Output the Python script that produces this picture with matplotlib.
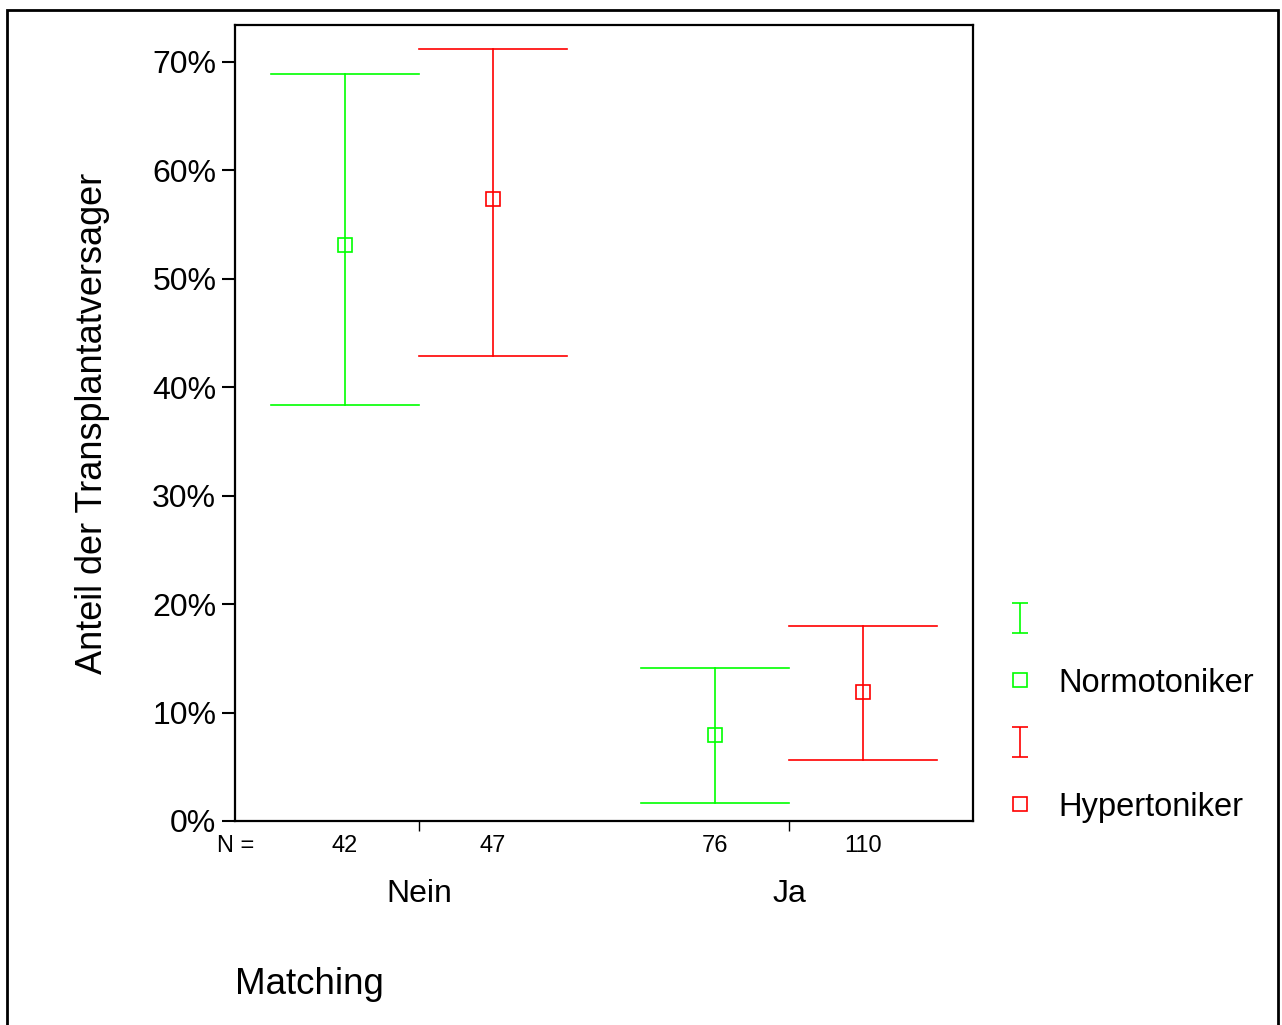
import matplotlib.pyplot as plt
from matplotlib.lines import Line2D
from matplotlib.patches import Rectangle
from matplotlib.path import Path
from matplotlib.ticker import FuncFormatter
import matplotlib.transforms as mtransforms

plt.rcParams['font.family'] = ['Liberation Sans', 'DejaVu Sans']

# Anteil der Transplantatversager (in %), Mittelwert mit 95%-KI
categories = ['Nein', 'Ja']
groups = ['Normotoniker', 'Hypertoniker']
colors = ['#00ff00', '#ff0000']

mean_normo = [53.1, 7.9]
lower_normo = [38.4, 1.7]
upper_normo = [68.9, 14.1]
n_normo = [42, 76]

mean_hyper = [57.4, 11.9]
lower_hyper = [42.9, 5.6]
upper_hyper = [71.2, 18.0]
n_hyper = [47, 110]

yticks = [0, 10, 20, 30, 40, 50, 60, 70]

fig = plt.figure(figsize=(12.82, 10.25), dpi=100)
ax = fig.add_axes([235 / 1282, 1 - 821 / 1025, (973 - 235) / 1282, (821 - 25) / 1025])

# Rahmen um die ganze Grafik
fig.patches.append(Rectangle((7 / 1282, -0.05), (1278 - 7) / 1282, 1.05 - 10 / 1025,
                             transform=fig.transFigure, fill=False, lw=2, ec='black'))

offset = 0.2
series = [
    (mean_normo, lower_normo, upper_normo, n_normo, -offset),
    (mean_hyper, lower_hyper, upper_hyper, n_hyper, offset),
]

trans_n = mtransforms.blended_transform_factory(ax.transData, ax.transAxes)

for (mean, lo, hi, n, dx), color in zip(series, colors):
    for i in range(len(categories)):
        x = i + 1 + dx
        ax.plot([x, x], [lo[i], hi[i]], color=color, lw=1.2)
        ax.plot([x - offset, x + offset], [lo[i], lo[i]], color=color, lw=1.2)
        ax.plot([x - offset, x + offset], [hi[i], hi[i]], color=color, lw=1.2)
        ax.plot([x], [mean[i]], marker='s', ms=9.5, mfc='none', mec=color, mew=1.2)
        ax.text(x, -0.031, str(n[i]), transform=trans_n, ha='center', va='center', fontsize=17)

ax.text(0.0015, -0.031, 'N =', transform=ax.transAxes, ha='center', va='center', fontsize=17)

ax.set_xlim(0.503, 2.497)
ax.set_ylim(0, 73.4)
ax.set_xticks([1, 2])
ax.set_xticklabels(categories, fontsize=23)
ax.set_yticks(yticks)
ax.yaxis.set_major_formatter(FuncFormatter(lambda v, p: f'{v:.0f}%'))
ax.tick_params(axis='y', length=9.5, width=1.5, labelsize=23, pad=4)
ax.tick_params(axis='x', length=7, width=1, pad=35)
for spine in ax.spines.values():
    spine.set_linewidth(1.6)

ax.set_ylabel('Anteil der Transplantatversager', fontsize=26, labelpad=30)
fig.text(235 / 1282, 1 - 985 / 1025, 'Matching', fontsize=26.5, ha='left', va='center')

# Legende: Fehlerbalken-Symbol und Quadrat je Gruppe
ibeam = Path([(-0.25, 0.5), (0.25, 0.5), (0, 0.5), (0, -0.5), (-0.25, -0.5), (0.25, -0.5)],
             [Path.MOVETO, Path.LINETO, Path.MOVETO, Path.LINETO, Path.MOVETO, Path.LINETO])
handles = []
labels = []
for g, color in zip(groups, colors):
    handles.append(Line2D([], [], ls='none', marker=ibeam, ms=22, mec=color, mfc='none', mew=1.2))
    labels.append(' ')
    handles.append(Line2D([], [], ls='none', marker='s', ms=9.5, mec=color, mfc='none', mew=1.2))
    labels.append(g)

leg = ax.legend(handles, labels, loc='center left', bbox_to_anchor=(1.042, 0.134),
                frameon=False, fontsize=23.5, handlelength=1.0, handletextpad=0.67,
                labelspacing=0.95, borderaxespad=0.0, borderpad=0.0)

fig.savefig('out.png', dpi=100)
